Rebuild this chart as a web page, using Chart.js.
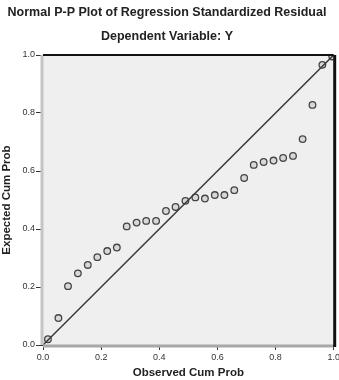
<!DOCTYPE html>
<html>
<head>
<meta charset="utf-8">
<script src="https://cdn.jsdelivr.net/npm/chart.js@4"></script>
<style>
  html, body { margin: 0; padding: 0; background: #fff; }
  #wrap { width: 339px; height: 380px; }
</style>
</head>
<body>
<div id="wrap"><canvas id="ppChart"></canvas></div>
<script>
// Observed vs expected cumulative probabilities
const observedCum = [0.017, 0.053, 0.086, 0.120, 0.154, 0.187, 0.221, 0.254, 0.288, 0.322,
  0.355, 0.389, 0.423, 0.456, 0.490, 0.524, 0.557, 0.591, 0.624, 0.658,
  0.692, 0.725, 0.759, 0.793, 0.826, 0.860, 0.893, 0.927, 0.961, 0.995];
const expectedCum = [0.020, 0.093, 0.203, 0.247, 0.276, 0.303, 0.324, 0.336, 0.409, 0.422,
  0.428, 0.428, 0.462, 0.476, 0.497, 0.509, 0.505, 0.517, 0.517, 0.534,
  0.576, 0.621, 0.631, 0.636, 0.645, 0.652, 0.710, 0.828, 0.966, 0.995];
const refLine = [0, 1];
const tickValues = [0.0, 0.2, 0.4, 0.6, 0.8, 1.0];

const frame = {
  id: 'frame',
  beforeDatasetsDraw(chart) {
    const { ctx, chartArea: a } = chart;
    ctx.save();
    ctx.fillStyle = '#efefef';
    ctx.fillRect(a.left, a.top, a.right - a.left, a.bottom - a.top);
    ctx.restore();
  },
  afterDraw(chart) {
    const { ctx, chartArea: a } = chart;
    ctx.save();
    ctx.strokeStyle = '#c4c4c4';
    ctx.lineWidth = 3;
    ctx.beginPath();
    ctx.moveTo(a.left - 1, a.top);
    ctx.lineTo(a.left - 1, a.bottom);
    ctx.stroke();
    ctx.strokeStyle = '#a8a8a8';
    ctx.beginPath();
    ctx.moveTo(a.left, a.bottom + 1);
    ctx.lineTo(a.right, a.bottom + 1);
    ctx.stroke();
    ctx.strokeStyle = '#111';
    ctx.lineWidth = 2;
    ctx.beginPath();
    ctx.moveTo(a.left, a.top);
    ctx.lineTo(a.right, a.top);
    ctx.stroke();
    ctx.lineWidth = 3;
    ctx.beginPath();
    ctx.moveTo(a.right + 1, a.top);
    ctx.lineTo(a.right + 1, a.bottom + 2);
    ctx.stroke();
    ctx.restore();
  }
};

const tickFont = { family: 'Liberation Sans', size: 9 };
const titleFont = { family: 'Liberation Sans', size: 12.5, weight: 'bold' };
const axisFont = { family: 'Liberation Sans', size: 11.5, weight: 'bold' };

new Chart(document.getElementById('ppChart'), {
  type: 'scatter',
  data: {
    datasets: [{
      type: 'line',
      data: refLine.map(v => ({ x: v, y: v })),
      borderColor: '#3a3a3a',
      borderWidth: 1.5,
      pointRadius: 0,
      fill: false
    }, {
      data: observedCum.map((x, i) => ({ x, y: expectedCum[i] })),
      pointRadius: 3.3,
      pointBorderWidth: 1.3,
      pointBorderColor: '#444',
      pointBackgroundColor: '#d8d8d8'
    }]
  },
  plugins: [frame],
  options: {
    responsive: true,
    maintainAspectRatio: false,
    animation: false,
    layout: { padding: { left: 0, right: 5, top: 0, bottom: 0 } },
    plugins: {
      legend: { display: false },
      tooltip: { enabled: false },
      title: {
        display: true,
        text: 'Normal P-P Plot of Regression Standardized Residual',
        color: '#222',
        font: titleFont,
        padding: { top: 5.5, bottom: 4 }
      },
      subtitle: {
        display: true,
        text: 'Dependent Variable: Y',
        color: '#222',
        font: titleFont,
        padding: { top: 5, bottom: 10.5 }
      }
    },
    scales: {
      x: {
        type: 'linear',
        min: 0, max: 1,
        afterBuildTicks(scale) { scale.ticks = tickValues.map(v => ({ value: v })); },
        afterFit(scale) { scale.height = 35; scale.paddingLeft = 0; scale.paddingRight = 0; },
        border: { display: false },
        grid: { drawOnChartArea: false, drawTicks: true, tickLength: 5, color: '#333', lineWidth: 1 },
        ticks: { font: tickFont, color: '#333', padding: 2, maxRotation: 0,
          callback: v => v.toFixed(1) },
        title: { display: true, text: 'Observed Cum Prob', color: '#222', font: axisFont,
          padding: { top: 3, bottom: 0 } }
      },
      y: {
        type: 'linear',
        min: 0, max: 1,
        afterBuildTicks(scale) { scale.ticks = tickValues.map(v => ({ value: v })); },
        afterFit(scale) { scale.width = 43; },
        border: { display: false },
        grid: { drawOnChartArea: false, drawTicks: true, tickLength: 7, color: '#333', lineWidth: 1 },
        ticks: { font: tickFont, color: '#333', padding: 1,
          callback: v => v.toFixed(1) },
        title: { display: true, text: 'Expected Cum Prob', color: '#222', font: axisFont,
          padding: { top: 0, bottom: 2 } }
      }
    }
  }
});
</script>
</body>
</html>
